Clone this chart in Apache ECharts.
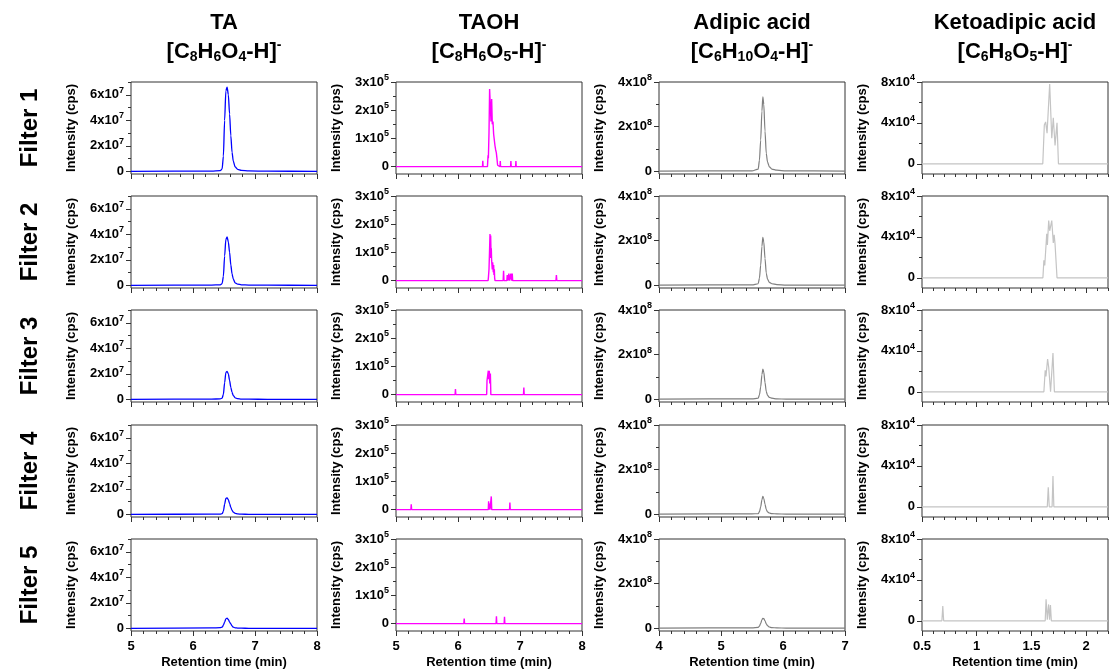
<!DOCTYPE html>
<html><head><meta charset="utf-8">
<script src="https://cdn.jsdelivr.net/npm/echarts@6/dist/echarts.min.js"></script>
<style>html,body{margin:0;padding:0;background:#fff}#c{width:1112px;height:670px}</style>
</head><body><div id="c"></div>
<script>
// ---------- labels ----------
const compounds = ['TA', 'TAOH', 'Adipic acid', 'Ketoadipic acid'];
const formulas = [
  '[C{sb|8}H{sb|6}O{sb|4}-H]{sp|-}',
  '[C{sb|8}H{sb|6}O{sb|5}-H]{sp|-}',
  '[C{sb|6}H{sb|10}O{sb|4}-H]{sp|-}',
  '[C{sb|6}H{sb|8}O{sb|5}-H]{sp|-}'
];
const filters = ['Filter 1', 'Filter 2', 'Filter 3', 'Filter 4', 'Filter 5'];
const xName = 'Retention time (min)';
const yName = 'Intensity (cps)';

// ---------- axis ticks ----------
const taXTicks = [5, 6, 7, 8];
const adXTicks = [4, 5, 6, 7];
const kaXTicks = [0.5, 1, 1.5, 2];
const taYTicks = [0, 2e7, 4e7, 6e7];
const taYMinor = [1e7, 3e7, 5e7, 7e7];
const hoYTicks = [0, 1e5, 2e5, 3e5];
const hoYMinor = [5e4, 1.5e5, 2.5e5];
const adYTicks = [0, 2e8, 4e8];
const adYMinor = [1e8, 3e8];
const kaYTicks = [0, 4e4, 8e4];
const kaYMinor = [2e4, 6e4];

// ---------- data: TA ----------
const ta1 = [[5.0,1e5],[6.30,3e5],[6.44,6e5],[6.47,2e6],[6.49,1.2e7],[6.51,4.0e7],[6.53,6.3e7],[6.55,6.6e7],[6.57,6.0e7],[6.59,4.5e7],[6.61,2.8e7],[6.63,1.5e7],[6.65,8e6],[6.68,3.5e6],[6.72,1.6e6],[6.78,8e5],[6.90,4e5],[7.20,2e5],[8.0,1e5]];
const ta2 = [[5.0,1e5],[6.30,3e5],[6.44,5e5],[6.47,1.5e6],[6.49,7e6],[6.51,2.3e7],[6.53,3.6e7],[6.55,3.8e7],[6.57,3.4e7],[6.59,2.6e7],[6.61,1.6e7],[6.63,9e6],[6.65,5e6],[6.68,2e6],[6.72,1e6],[6.78,5e5],[6.90,3e5],[7.20,2e5],[8.0,1e5]];
const ta3 = [[5.0,1e5],[6.30,3e5],[6.44,4e5],[6.47,1e6],[6.49,4e6],[6.51,1.3e7],[6.53,2.1e7],[6.55,2.2e7],[6.57,2.0e7],[6.59,1.5e7],[6.61,9.5e6],[6.63,5.5e6],[6.65,3e6],[6.68,1.3e6],[6.72,6e5],[6.78,3e5],[6.90,2e5],[7.20,1e5],[8.0,1e5]];
const ta4 = [[5.0,1e5],[6.30,2e5],[6.44,3e5],[6.47,6e5],[6.49,2.5e6],[6.51,8e6],[6.53,1.25e7],[6.55,1.3e7],[6.57,1.15e7],[6.59,8.5e6],[6.61,5.5e6],[6.63,3.2e6],[6.65,1.8e6],[6.68,8e5],[6.72,4e5],[6.78,2e5],[6.90,1e5],[7.20,1e5],[8.0,1e5]];
const ta5 = [[5.0,1e5],[6.30,4e5],[6.44,6e5],[6.47,1e6],[6.49,2.5e6],[6.51,5e6],[6.53,7.5e6],[6.55,8e6],[6.57,7e6],[6.59,5e6],[6.61,3.5e6],[6.63,2e6],[6.65,1e6],[6.68,5e5],[6.72,3e5],[6.78,2e5],[6.90,1e5],[7.20,1e5],[8.0,1e5]];

// ---------- data: TAOH ----------
const ho1 = [[5,0],[6.395,0],[6.400,2.1e4],[6.405,0],[6.475,0],[6.485,4e4],[6.490,3e4],[6.500,1.2e5],[6.510,2.75e5],[6.521,2.7e5],[6.532,1.6e5],[6.543,2.4e5],[6.553,1.5e5],[6.564,1.6e5],[6.575,1.15e5],[6.585,1.2e5],[6.596,7.5e4],[6.607,6e4],[6.618,5e4],[6.628,3e4],[6.639,5e3],[6.645,0],[6.677,0],[6.682,2e4],[6.687,0],[6.848,0],[6.853,2e4],[6.858,0],[6.929,0],[6.934,2e4],[6.939,0],[8,0]];
const ho2 = [[5,0],[6.485,0],[6.490,1e4],[6.500,4e4],[6.508,1.0e5],[6.516,1.65e5],[6.522,8e4],[6.527,1.6e5],[6.532,1.0e5],[6.537,1.15e5],[6.543,7e4],[6.548,6.5e4],[6.553,4e4],[6.559,6.5e4],[6.564,5e4],[6.569,3e4],[6.575,5.5e4],[6.580,2e4],[6.586,4e4],[6.591,1e4],[6.597,0],[6.728,0],[6.735,3.5e4],[6.742,0],[6.788,0],[6.794,2e4],[6.800,0],[6.815,0],[6.821,2.5e4],[6.827,0],[6.846,0],[6.853,2.5e4],[6.860,0],[6.868,0],[6.875,2.5e4],[6.882,0],[7.580,0],[7.587,2e4],[7.594,0],[8,0]];
const ho3 = [[5,0],[5.953,0],[5.959,2e4],[5.965,0],[6.462,0],[6.468,5e4],[6.478,4.5e4],[6.489,8.5e4],[6.496,5.5e4],[6.505,8.5e4],[6.512,4e4],[6.522,7.5e4],[6.530,0],[7.056,0],[7.062,2.5e4],[7.068,0],[8,0]];
const ho4 = [[5,0],[5.240,0],[5.246,1.9e4],[5.252,0],[6.488,0],[6.494,3e4],[6.500,0],[6.505,0],[6.510,2.2e4],[6.516,0],[6.530,0],[6.537,4.7e4],[6.544,0],[6.831,0],[6.837,2.5e4],[6.843,0],[8,0]];
const ho5 = [[5,0],[6.094,0],[6.100,1.8e4],[6.106,0],[6.614,0],[6.620,2.6e4],[6.626,0],[6.744,0],[6.750,2.4e4],[6.756,0],[8,0]];

// ---------- data: Adipic acid ----------
const ad1 = [[4.0,1e6],[5.50,2e6],[5.60,1e7],[5.62,5e7],[5.64,1.4e8],[5.66,2.7e8],[5.675,3.33e8],[5.69,3.0e8],[5.71,1.8e8],[5.73,8e7],[5.75,4.2e7],[5.78,2e7],[5.82,1e7],[5.90,5e6],[6.05,2e6],[7.0,1e6]];
const ad2 = [[4.0,1e6],[5.50,2e6],[5.60,7e6],[5.62,3.2e7],[5.64,9e7],[5.66,1.75e8],[5.675,2.15e8],[5.69,1.95e8],[5.71,1.2e8],[5.73,5.5e7],[5.75,2.8e7],[5.78,1.3e7],[5.82,7e6],[5.90,3e6],[6.05,1e6],[7.0,1e6]];
const ad3 = [[4.0,1e6],[5.50,2e6],[5.60,5e6],[5.62,2e7],[5.64,5.5e7],[5.66,1.1e8],[5.675,1.35e8],[5.69,1.22e8],[5.71,7.5e7],[5.73,3.5e7],[5.75,1.8e7],[5.78,9e6],[5.82,5e6],[5.90,2e6],[6.05,1e6],[7.0,1e6]];
const ad4 = [[4.0,1e6],[5.50,2e6],[5.60,3e6],[5.62,1.2e7],[5.64,3.3e7],[5.66,6.5e7],[5.675,8e7],[5.69,7.2e7],[5.71,4.5e7],[5.73,2.1e7],[5.75,1.1e7],[5.78,6e6],[5.82,3e6],[5.90,2e6],[6.05,1e6],[7.0,1e6]];
const ad5 = [[4.0,1e6],[5.50,2e6],[5.60,4e6],[5.62,1e7],[5.64,2.2e7],[5.66,3.8e7],[5.675,4.5e7],[5.69,4.3e7],[5.71,3.3e7],[5.73,2e7],[5.75,1.2e7],[5.78,6e6],[5.82,3e6],[5.90,2e6],[6.05,1e6],[7.0,1e6]];

// ---------- data: Ketoadipic acid ----------
const ka1 = [[0.5,0],[1.604,0],[1.618,3.8e4],[1.630,4.1e4],[1.643,3.0e4],[1.667,7.8e4],[1.686,2.5e4],[1.700,4.5e4],[1.716,1.8e4],[1.734,4.0e4],[1.747,0],[2.2,0]];
const ka2 = [[0.5,0],[1.605,0],[1.614,1.7e4],[1.622,1.2e4],[1.640,4.3e4],[1.646,3.2e4],[1.658,5.6e4],[1.667,4.6e4],[1.686,5.6e4],[1.700,3.4e4],[1.708,4.2e4],[1.716,3.3e4],[1.734,0],[2.2,0]];
const ka3 = [[0.5,0],[1.614,0],[1.626,2.1e4],[1.633,1.5e4],[1.648,3.2e4],[1.658,2.4e4],[1.675,0],[1.686,0],[1.697,3.8e4],[1.710,0],[2.2,0]];
const ka4 = [[0.5,0],[1.645,0],[1.654,1.9e4],[1.663,0],[1.689,0],[1.697,3.0e4],[1.705,0],[2.2,0]];
const ka5 = [[0.5,0],[0.682,0],[0.690,1.45e4],[0.698,0],[1.626,0],[1.634,2.1e4],[1.645,1e3],[1.657,1.6e4],[1.666,1e3],[1.674,1.55e4],[1.682,0],[2.2,0]];

// ---------- layout / styles ----------
const FONT = '"Liberation Sans", Arial, Helvetica, sans-serif';
const colLefts = [131, 396, 659, 922];
const rowTops = [82, 196, 310, 425, 539];
const PW = 186, PH = 92;
const AX = '#333';

function range(a, b, s) { const o = []; for (let i = 0; a + i * s <= b + 1e-9; i++) o.push(+(a + i * s).toFixed(6)); return o; }
function minorOf(a, b, s, maj) { return range(a, b, s).filter(v => !maj.some(m => Math.abs(m - v) < 1e-9)); }

const cols = [
  { xr: [5, 8], xt: taXTicks, xs: 0.2, yr: [-2e6, 7e7], yt: taYTicks, ym: taYMinor, exp: 7, color: '#0000ff', w: 1.3, smooth: 0.25, data: [ta1, ta2, ta3, ta4, ta5] },
  { xr: [5, 8], xt: taXTicks, xs: 0.2, yr: [-2.6e4, 3e5], yt: hoYTicks, ym: hoYMinor, exp: 5, color: '#ff00ff', w: 1.4, smooth: false, data: [ho1, ho2, ho3, ho4, ho5] },
  { xr: [4, 7], xt: adXTicks, xs: 0.2, yr: [-1.2e7, 4e8], yt: adYTicks, ym: adYMinor, exp: 8, color: '#7f7f7f', w: 1.2, smooth: 0.25, data: [ad1, ad2, ad3, ad4, ad5] },
  { xr: [0.5, 2.2], xt: kaXTicks, xs: 0.1, yr: [-1e4, 8e4], yt: kaYTicks, ym: kaYMinor, exp: 4, color: '#c4c4c4', w: 1.2, smooth: false, data: [ka1, ka2, ka3, ka4, ka5] }
];

const grid = [], xAxis = [], yAxis = [], series = [], graphic = [];
const tickLine = { color: AX, width: 1 };
const noLine = { show: false, onZero: false };
for (let r = 0; r < 5; r++) {
  for (let c = 0; c < 4; c++) {
    const C = cols[c];
    const g = grid.length;
    grid.push({ left: colLefts[c], top: rowTops[r], width: PW, height: PH, show: true, borderColor: AX, borderWidth: 1, backgroundColor: 'transparent' });
    const bottom = r === 4;
    xAxis.push({
      gridIndex: g, type: 'value', min: C.xr[0], max: C.xr[1], position: 'bottom',
      axisLine: noLine, splitLine: { show: false },
      axisTick: { show: true, customValues: C.xt, length: 5, lineStyle: tickLine },
      axisLabel: { show: bottom, customValues: C.xt, fontSize: 13, fontWeight: 'bold', color: '#000', fontFamily: FONT, margin: 9 },
      name: bottom ? xName : '', nameLocation: 'middle', nameGap: 25,
      nameTextStyle: { fontSize: 13, fontWeight: 'bold', color: '#000', fontFamily: FONT }
    });
    xAxis.push({
      gridIndex: g, type: 'value', min: C.xr[0], max: C.xr[1], position: 'bottom',
      axisLine: noLine, splitLine: { show: false },
      axisTick: { show: true, customValues: minorOf(C.xr[0], C.xr[1], C.xs, C.xt), length: 3, lineStyle: tickLine },
      axisLabel: { show: false }
    });
    const exp = C.exp;
    yAxis.push({
      gridIndex: g, type: 'value', min: C.yr[0], max: C.yr[1], position: 'left',
      axisLine: noLine, splitLine: { show: false },
      axisTick: { show: true, customValues: C.yt, length: 5, lineStyle: tickLine },
      axisLabel: {
        show: true, customValues: C.yt, margin: 7,
        formatter: v => v === 0 ? '{b|0}' : '{b|' + Math.round(v / Math.pow(10, exp)) + 'x10}{s|' + exp + '}',
        rich: {
          b: { fontSize: 13, fontWeight: 'bold', color: '#000', fontFamily: FONT },
          s: { fontSize: 9, fontWeight: 'bold', color: '#000', fontFamily: FONT, padding: [0, 0, 9, 0] }
        }
      },
      name: yName, nameLocation: 'middle', nameGap: 53,
      nameTextStyle: { fontSize: 13, fontWeight: 'bold', color: '#000', fontFamily: FONT }
    });
    yAxis.push({
      gridIndex: g, type: 'value', min: C.yr[0], max: C.yr[1], position: 'left',
      axisLine: noLine, splitLine: { show: false },
      axisTick: { show: true, customValues: C.ym, length: 3, lineStyle: tickLine },
      axisLabel: { show: false }
    });
    series.push({
      type: 'line', xAxisIndex: 2 * g, yAxisIndex: 2 * g, data: C.data[r],
      showSymbol: false, symbol: 'none', smooth: C.smooth, smoothMonotone: 'x',
      lineStyle: { color: C.color, width: C.w }, itemStyle: { color: C.color },
      silent: true, animation: false, clip: true
    });
  }
}

// column titles
for (let c = 0; c < 4; c++) {
  const cx = colLefts[c] + PW / 2;
  graphic.push({ type: 'text', x: cx, y: 23, style: { text: compounds[c], fill: '#000', fontSize: 22, fontWeight: 'bold', fontFamily: FONT, align: 'center', verticalAlign: 'middle', textAlign: 'center', textVerticalAlign: 'middle' } });
  graphic.push({ type: 'text', x: cx, y: 52, style: {
    text: formulas[c], fill: '#000', fontSize: 22, fontWeight: 'bold', fontFamily: FONT,
    align: 'center', verticalAlign: 'middle', textAlign: 'center', textVerticalAlign: 'middle',
    rich: {
      sb: { fontSize: 14, fontWeight: 'bold', fontFamily: FONT, fill: '#000', padding: [11, 0, 0, 0] },
      sp: { fontSize: 14, fontWeight: 'bold', fontFamily: FONT, fill: '#000', padding: [0, 0, 13, 0] }
    }
  } });
}
// row labels
for (let r = 0; r < 5; r++) {
  graphic.push({ type: 'text', x: 30, y: rowTops[r] + PH / 2, rotation: Math.PI / 2, style: { text: filters[r], fill: '#000', fontSize: 24, fontWeight: 'bold', fontFamily: FONT, align: 'center', verticalAlign: 'middle', textAlign: 'center', textVerticalAlign: 'middle' } });
}

const chart = echarts.init(document.getElementById('c'), null, { renderer: 'canvas' });
chart.setOption({ animation: false, backgroundColor: '#fff', grid, xAxis, yAxis, series, graphic });
</script>
</body></html>
